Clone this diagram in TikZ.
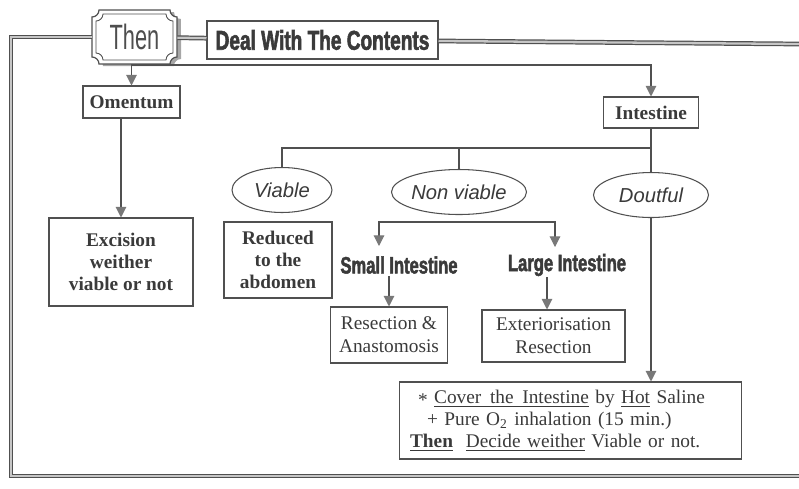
\documentclass[tikz,border=0pt]{standalone}
\usepackage{fontspec}
\setmainfont{Liberation Serif}
\setsansfont{Liberation Sans}
\newfontfamily\heavyfont[FakeStretch=0.7,BoldFeatures={FakeBold=2}]{Liberation Sans}
\newfontfamily\narrowfont[FakeStretch=0.62]{Liberation Sans}
\usetikzlibrary{arrows.meta,shapes.geometric}
\definecolor{ink}{HTML}{3A3A3A}
\definecolor{rule}{HTML}{505050}
\definecolor{tipgray}{HTML}{787878}
\newcommand\notchbox[4]{(#1+7,#2) -- (#3-7,#2) arc[start angle=180,end angle=270,radius=0.14cm] -- (#3,#4-7) arc[start angle=90,end angle=180,radius=0.14cm] -- (#1+7,#4) arc[start angle=0,end angle=90,radius=0.14cm] -- (#1,#2+7) arc[start angle=270,end angle=360,radius=0.14cm] -- cycle}
\begin{document}
\begin{tikzpicture}[x=0.02cm,y=-0.02cm,
	box/.style={draw=rule,line width=0.6pt,rectangle,inner sep=0pt,align=center,text=ink},
	oval/.style={draw=rule,line width=0.6pt,ellipse,inner sep=0pt,text=ink,font=\sffamily\itshape\fontsize{11.5}{13}\selectfont},
	frame/.style={draw=rule,double=gray!45,double distance=1.3pt,line width=0.7pt},
	link/.style={draw=rule,line width=0.6pt},
	arr/.style={link,-{Triangle[width=6pt,length=6pt,color=tipgray]}},
	both/.style={link,{Triangle[width=6pt,length=6pt,color=tipgray]}-{Triangle[width=6pt,length=6pt,color=tipgray]}},
	heavy/.style={font=\heavyfont\bfseries\fontsize{13.5}{15}\selectfont,text=ink},
	plain/.style={font=\fontsize{11}{13}\selectfont},
	strong/.style={font=\bfseries\fontsize{11}{12.5}\selectfont}]
	\useasboundingbox (0,0) rectangle (799,488);
	
	\fill[gray!70] [shift={(4,2)}] \notchbox{92}{10}{177}{64};
	\draw[rule,fill=white,line width=0.7pt] \notchbox{92}{10}{177}{64};
	\draw[rule,line width=0.5pt] \notchbox{96}{14}{173}{60};
	\node[minimum width=1.7cm,minimum height=1.08cm,inner sep=0pt,text=ink!90,font=\narrowfont\fontsize{20}{21}\selectfont] (then) at (134.5,37) {Then};
	\node[box,minimum width=4.62cm,minimum height=0.76cm,font=\heavyfont\bfseries\fontsize{15.5}{17}\selectfont] (deal) at (322.5,40) {Deal With The Contents};
	
	\node[box,strong,minimum width=1.94cm,minimum height=0.64cm] (omentum) at (131.5,102) {Omentum};
	\node[box,strong,minimum width=1.9cm,minimum height=0.62cm] (intestine) at (651,112.5) {Intestine};
	
	\node[box,strong,minimum width=2.88cm,minimum height=1.76cm] (excision) at (121,262) {Excision\\weither\\viable or not};
	\node[box,strong,minimum width=2.16cm,minimum height=1.52cm] (reduced) at (278,260) {Reduced\\to the\\abdomen};
	
	\node[oval,minimum width=2.0cm,minimum height=0.9cm] (viable) at (282,190) {Viable};
	\node[oval,minimum width=2.6cm,minimum height=0.9cm] (nonviable) at (459,192) {Non viable};
	\node[oval,minimum width=2.3cm,minimum height=0.9cm] (doutful) at (651,195) {Doutful};
	
	\node[heavy] (small) at (399,265) {Small Intestine};
	\node[heavy] (large) at (567,265) {Large Intestine};
	
	\node[box,plain,minimum width=2.34cm,minimum height=1.12cm] (resection) at (389,335) {Resection \&\\Anastomosis};
	\node[box,plain,minimum width=2.86cm,minimum height=1.04cm] (exter) at (553.5,336) {Exteriorisation\\Resection};
	
	\node[box,plain,align=left,text width=6.42cm,inner xsep=0.22cm,minimum height=1.54cm,font=\fontsize{11}{12.6}\selectfont] (cover) at (570.5,420.5) {\hspace*{0.16cm}\raisebox{-0.35ex}{*} \underline{Cover\hspace{0.45em}the\hspace{0.45em}Intestine} by \underline{Hot} Saline\\
	\hspace*{0.34cm}+ Pure O\textsubscript{2} inhalation (15~min.)\\
	\underline{\textbf{Then}}\ \ \underline{Decide weither} Viable or not.};
	
	\coordinate (tl) at (11,37);
	\coordinate (bl) at (11,476);
	\coordinate (br) at (799,476);
	\coordinate (tr) at (799,44);
	\draw[frame] (then) -- (tl) -- (bl) -- (br);
	\draw[frame] (then) -- (deal);
	\draw[frame] (deal) -- (tr);
	
	\coordinate (fl) at (131.5,65);
	\coordinate (fr) at (651,65);
	\draw[arr] (fr) -- (fl) -- (omentum);
	\draw[arr] (fl) -- (fr) -- (intestine);
	\draw[arr] (excision.north |- omentum.south) -- (excision);
	
	\coordinate (bv) at (282,148);
	\coordinate (bn) at (459,148);
	\coordinate (bd) at (651,148);
	\draw[link] (intestine) -- (doutful);
	\draw[link] (bd) -- (bv) -- (viable);
	\draw[link] (bn) -- (nonviable);
	
	\coordinate (nl) at (379,222);
	\coordinate (nr) at (555,222);
	\coordinate (nla) at (379,246);
	\coordinate (nra) at (555,247);
	\draw[both] (nla) -- (nl) -- (nr) -- (nra);
	\coordinate (sa) at (389,276);
	\draw[arr] (sa) -- (sa |- resection.north);
	\coordinate (la) at (547,277);
	\draw[arr] (la) -- (la |- exter.north);
	\draw[arr] (doutful) -- (cover.north -| doutful);
\end{tikzpicture}
\end{document}
